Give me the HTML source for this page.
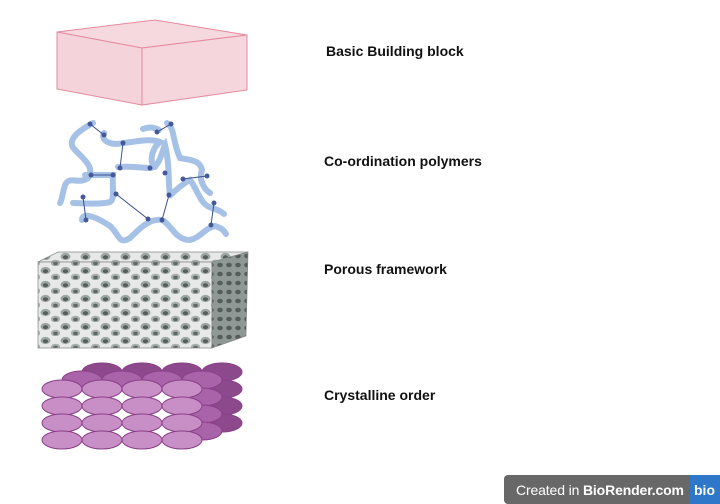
<!DOCTYPE html>
<html><head><meta charset="utf-8"><style>
body{margin:0;background:#fff;width:720px;height:504px;overflow:hidden;font-family:"Liberation Sans",sans-serif}
.l{position:absolute;font-weight:bold;font-size:14px;color:#111}
</style></head><body>
<svg width="720" height="504" style="position:absolute;left:0;top:0">
<defs>
<pattern id="pores" width="20" height="14" patternUnits="userSpaceOnUse">
<rect width="20" height="14" fill="#e6e9e8"/>
<ellipse cx="5.5" cy="4.5" rx="5" ry="3.6" fill="#9ca5a2"/>
<ellipse cx="5.5" cy="5.2" rx="2.6" ry="1.9" fill="#545d5a"/>
<ellipse cx="15.5" cy="11" rx="4.6" ry="3.3" fill="#a7afac"/>
<ellipse cx="15.5" cy="11.5" rx="2.3" ry="1.7" fill="#5f6764"/>
</pattern>
<pattern id="pores2" width="9" height="9" patternUnits="userSpaceOnUse">
<rect width="9" height="9" fill="#8f9895"/>
<ellipse cx="4" cy="4" rx="2.8" ry="2.3" fill="#555d5a"/>
</pattern>
</defs>
<polygon points="57,32 155,20 247,35 142,48" fill="#f6d9df" stroke="#e58a9c" stroke-width="1"/>
<polygon points="57,32 142,48 142,105 57,89" fill="#f4d3da" stroke="#e58a9c" stroke-width="1"/>
<polygon points="142,48 247,35 247,90 142,105" fill="#f5d6dd" stroke="#e58a9c" stroke-width="1"/>
<g fill="none" stroke="#a6c1e6" stroke-width="6" stroke-linecap="round">
<path d="M93,123 C80,130 65,140 75,150 C85,160 95,168 88,178 C78,185 70,175 65,185 C62,195 62,200 60,203"/>
<path d="M104,133 C100,140 110,146 123,143 C135,142 150,138 160,142 C150,150 150,165 155,167"/>
<path d="M143,129 C150,126 155,128 159,130"/>
<path d="M167,123 C175,128 172,140 180,158 C190,160 200,160 202,170 C198,180 205,190 210,193"/>
<path d="M118,167 C130,166 145,168 150,168 C160,168 162,150 165,145 C170,165 168,185 170,195 C168,198 180,185 190,180 C198,190 200,205 212,208 C218,210 222,212 224,214"/>
<path d="M85,175 L113,175 C112,185 115,200 110,202 C100,205 80,203 73,203"/>
<path d="M82,220 C82,212 95,216 110,226 C120,235 118,245 130,238 C140,228 150,218 162,220 C172,225 175,240 190,240 C200,238 205,228 215,226 C222,228 225,232 226,234"/>
</g>
<g stroke="#3b4f8f" stroke-width="1" fill="none">
<path d="M90,124 L104,135 M123,143 L120,168 M91,175 L113,175 M83,197 L86,220 M116,194 L148,219 M169,195 L162,220 M183,179 L207,176 M214,203 L211,225 M157,132 L171,124"/>
</g>
<g fill="#45599a">
<circle cx="90" cy="124" r="2.5"/><circle cx="104" cy="135" r="2.5"/><circle cx="123" cy="143" r="2.5"/><circle cx="120" cy="168" r="2.5"/><circle cx="91" cy="175" r="2.5"/><circle cx="113" cy="175" r="2.5"/><circle cx="83" cy="197" r="2.5"/><circle cx="86" cy="220" r="2.5"/><circle cx="116" cy="194" r="2.5"/><circle cx="148" cy="219" r="2.5"/><circle cx="162" cy="220" r="2.5"/><circle cx="169" cy="195" r="2.5"/><circle cx="183" cy="179" r="2.5"/><circle cx="207" cy="176" r="2.5"/><circle cx="214" cy="203" r="2.5"/><circle cx="211" cy="225" r="2.5"/><circle cx="157" cy="132" r="2.5"/><circle cx="171" cy="124" r="2.5"/><circle cx="150" cy="168" r="2.5"/><circle cx="165" cy="173" r="2.5"/>
</g>
<polygon points="38,262 58,252 248,252 212,262" fill="url(#pores)" stroke="#888" stroke-width="0.7"/>
<polygon points="38,262 212,262 212,348 38,348" fill="url(#pores)" stroke="#888" stroke-width="0.7"/>
<polygon points="212,262 248,252 246,336 212,348" fill="url(#pores2)" stroke="#888" stroke-width="0.7"/>
<g stroke="#8a3f88" stroke-width="1">
<g fill="#8c4a8d">
<ellipse cx="102" cy="372" rx="20" ry="9"/><ellipse cx="142" cy="372" rx="20" ry="9"/><ellipse cx="182" cy="372" rx="20" ry="9"/><ellipse cx="222" cy="372" rx="20" ry="9"/>
<ellipse cx="222" cy="389" rx="20" ry="9"/><ellipse cx="222" cy="406" rx="20" ry="9"/><ellipse cx="222" cy="423" rx="20" ry="9"/>
</g>
<g fill="#a963a8">
<ellipse cx="82" cy="380" rx="20" ry="9"/><ellipse cx="122" cy="380" rx="20" ry="9"/><ellipse cx="162" cy="380" rx="20" ry="9"/><ellipse cx="202" cy="380" rx="20" ry="9"/>
<ellipse cx="202" cy="397" rx="20" ry="9"/><ellipse cx="202" cy="414" rx="20" ry="9"/><ellipse cx="202" cy="431" rx="20" ry="9"/>
</g>
<g fill="#c88fc6">
<ellipse cx="62" cy="389" rx="20" ry="9"/><ellipse cx="102" cy="389" rx="20" ry="9"/><ellipse cx="142" cy="389" rx="20" ry="9"/><ellipse cx="182" cy="389" rx="20" ry="9"/>
<ellipse cx="62" cy="406" rx="20" ry="9"/><ellipse cx="102" cy="406" rx="20" ry="9"/><ellipse cx="142" cy="406" rx="20" ry="9"/><ellipse cx="182" cy="406" rx="20" ry="9"/>
<ellipse cx="62" cy="423" rx="20" ry="9"/><ellipse cx="102" cy="423" rx="20" ry="9"/><ellipse cx="142" cy="423" rx="20" ry="9"/><ellipse cx="182" cy="423" rx="20" ry="9"/>
<ellipse cx="62" cy="440" rx="20" ry="9"/><ellipse cx="102" cy="440" rx="20" ry="9"/><ellipse cx="142" cy="440" rx="20" ry="9"/><ellipse cx="182" cy="440" rx="20" ry="9"/>
</g>
</g>
<rect x="504" y="475" width="216" height="29" rx="4" fill="#686868"/>
<rect x="690" y="475" width="30" height="29" fill="#2e77c9"/>
<text x="516" y="495" font-family="Liberation Sans, sans-serif" font-size="14" fill="#fff" textLength="168">Created in <tspan font-weight="bold">BioRender.com</tspan></text>
<text x="694" y="495" font-family="Liberation Sans, sans-serif" font-size="14" font-weight="bold" fill="#fff">bio</text>
</svg>
<div class="l" style="left:326px;top:43px">Basic Building block</div>
<div class="l" style="left:324px;top:153px">Co-ordination polymers</div>
<div class="l" style="left:324px;top:261px">Porous framework</div>
<div class="l" style="left:324px;top:387px">Crystalline order</div>
</body></html>
